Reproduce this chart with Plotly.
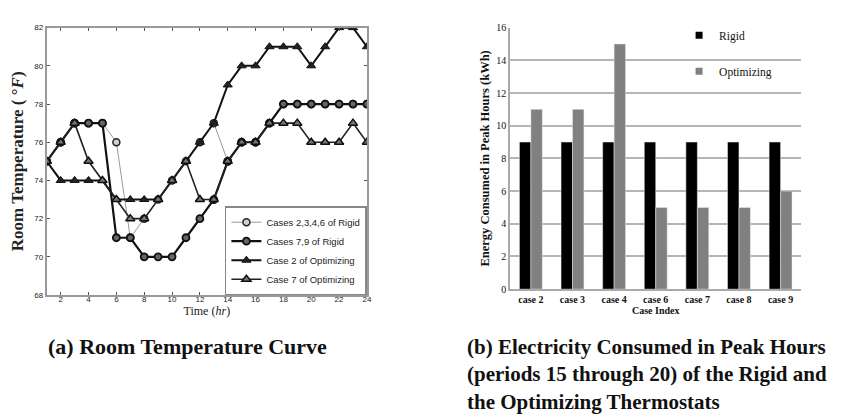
import plotly.graph_objects as go

hours = list(range(1, 25))
rigid_2346 = [75, 76, 77, 77, 77, 76, 71, 72, 73, 74, 75, 76, 77, 75, 76, 76, 77, 78, 78, 78, 78, 78, 78, 78]
rigid_79 = [75, 76, 77, 77, 77, 71, 71, 70, 70, 70, 71, 72, 73, 75, 76, 76, 77, 78, 78, 78, 78, 78, 78, 78]
opt_case2 = [75, 74, 74, 74, 74, 73, 73, 73, 73, 74, 75, 76, 77, 79, 80, 80, 81, 81, 81, 80, 81, 82, 82, 81]
opt_case7 = [75, 76, 77, 75, 74, 73, 72, 72, 73, 74, 75, 73, 73, 75, 76, 76, 77, 77, 77, 76, 76, 76, 77, 76]

cases = ["case 2", "case 3", "case 4", "case 6", "case 7", "case 8", "case 9"]
rigid_kwh = [9, 9, 9, 9, 9, 9, 9]
optimizing_kwh = [11, 11, 15, 5, 5, 5, 6]

temp_ticks = [68, 70, 72, 74, 76, 78, 80, 82]
hour_ticks = list(range(2, 25, 2))
kwh_ticks = [0, 2, 4, 6, 8, 10, 12, 14, 16]

fig = go.Figure()

fig.add_trace(go.Scatter(x=hours, y=rigid_2346, name="Cases 2,3,4,6 of Rigid", mode="lines+markers",
                         line=dict(color="#9a9a9a", width=1),
                         marker=dict(symbol="circle", size=7, color="#d0d0d0", line=dict(color="#222", width=1.5)),
                         xaxis="x", yaxis="y", legend="legend"))
fig.add_trace(go.Scatter(x=hours, y=rigid_79, name="Cases 7,9 of Rigid", mode="lines+markers",
                         line=dict(color="#111", width=2.2),
                         marker=dict(symbol="circle", size=7, color="#666", line=dict(color="#111", width=1.8)),
                         xaxis="x", yaxis="y", legend="legend"))
fig.add_trace(go.Scatter(x=hours, y=opt_case2, name="Case 2 of Optimizing", mode="lines+markers",
                         line=dict(color="#111", width=2),
                         marker=dict(symbol="triangle-up", size=8, color="#222", line=dict(color="#111", width=1)),
                         xaxis="x", yaxis="y", legend="legend"))
fig.add_trace(go.Scatter(x=hours, y=opt_case7, name="Case 7 of Optimizing", mode="lines+markers",
                         line=dict(color="#222", width=1.6),
                         marker=dict(symbol="triangle-up", size=8, color="#777", line=dict(color="#111", width=1.5)),
                         xaxis="x", yaxis="y", legend="legend"))

fig.add_trace(go.Bar(x=cases, y=rigid_kwh, name="Rigid", marker=dict(color="#000000"),
                     xaxis="x2", yaxis="y2", showlegend=False))
fig.add_trace(go.Bar(x=cases, y=optimizing_kwh, name="Optimizing", marker=dict(color="#808080"),
                     xaxis="x2", yaxis="y2", showlegend=False))
# legend entries (small square keys like the reference)
fig.add_trace(go.Scatter(x=[None], y=[None], mode="markers", name="Rigid",
                         marker=dict(symbol="square", size=7, color="#000000"),
                         xaxis="x2", yaxis="y2", legend="legend2", legendgroup="r"))
fig.add_trace(go.Scatter(x=[None], y=[None], mode="markers", name="Optimizing",
                         marker=dict(symbol="square", size=7, color="#808080"),
                         xaxis="x2", yaxis="y2", legend="legend2", legendgroup="o"))

tickfont_l = dict(family="Arial", size=8, color="#222")
serif_bold = dict(family="Liberation Serif", size=10, color="#111")

fig.update_layout(
    width=863, height=414,
    margin=dict(l=0, r=0, t=0, b=0),
    paper_bgcolor="white", plot_bgcolor="white",
    showlegend=True,
    barmode="group", bargap=0.45, bargroupgap=0,
    xaxis=dict(domain=[39/863, 361/863], range=[1, 24], tickvals=hour_ticks, ticks="inside", ticklen=3,
               tickcolor="#555", showline=True, linecolor="#999", linewidth=2, mirror="ticks",
               showgrid=False, zeroline=False, tickfont=tickfont_l, ticklabelstandoff=-5,
               title=dict(text="Time (<i>hr</i>)", font=dict(family="Liberation Serif", size=12, color="#222"), standoff=0),
               anchor="y"),
    yaxis=dict(domain=[(414-289)/414, (414-15)/414], range=[68, 82], tickvals=temp_ticks, ticks="inside", ticklen=3,
               tickcolor="#555", showline=True, linecolor="#999", linewidth=2, mirror="ticks",
               showgrid=False, zeroline=False, tickfont=tickfont_l,
               title=dict(text="<b>Room Temperature ( °<i>F</i>)</b>", font=dict(family="Liberation Serif", size=17, color="#222"), standoff=8),
               anchor="x"),
    xaxis2=dict(domain=[505/863, 798/863], anchor="y2", showline=True, linecolor="#aaa", linewidth=1.5,
                showgrid=False, ticks="", tickfont=serif_bold, tickprefix="<b>", ticksuffix="</b>",
                title=dict(text="<b>Case Index</b>", font=serif_bold, standoff=2)),
    yaxis2=dict(domain=[(414-283)/414, (414-15)/414], anchor="x2", range=[0, 16], tickvals=kwh_ticks,
                showline=True, linecolor="#aaa", linewidth=1.5, showgrid=True, gridcolor="#b5b5b5", gridwidth=2,
                zeroline=False, ticks="", tickfont=dict(family="Liberation Serif", size=10, color="#111"),
                tickprefix="<b>", ticksuffix="</b>",
                title=dict(text="<b>Energy Consumed in Peak Hours (kWh)</b>",
                           font=dict(family="Liberation Serif", size=12.5, color="#111"), standoff=4)),
    legend=dict(x=361/863, y=(414-198)/414, xanchor="right", yanchor="top",
                bgcolor="white", bordercolor="#888", borderwidth=1.5,
                font=dict(family="Arial", size=9.5, color="#222"), tracegroupgap=0,
                itemwidth=30),
    legend2=dict(x=675/863, y=(414-8)/414, xanchor="left", yanchor="top",
                 bgcolor="rgba(0,0,0,0)", borderwidth=0, traceorder="grouped", tracegroupgap=17,
                 font=dict(family="Liberation Serif", size=11.5, color="#111"), itemwidth=30),
)

fig.add_annotation(text="<b>(a) Room Temperature Curve</b>", x=38/863, y=(414-342)/414, xref="paper", yref="paper",
                   xanchor="left", yanchor="middle", showarrow=False,
                   font=dict(family="Liberation Serif", size=22, color="#111"))
fig.add_annotation(text="<b>(b) Electricity Consumed in Peak Hours<br>(periods 15 through 20) of the Rigid and<br>the Optimizing Thermostats</b>",
                   x=460/863, y=(414-328)/414, xref="paper", yref="paper", align="left",
                   xanchor="left", yanchor="top", showarrow=False,
                   font=dict(family="Liberation Serif", size=21, color="#111"))

fig.write_html("out.html")
